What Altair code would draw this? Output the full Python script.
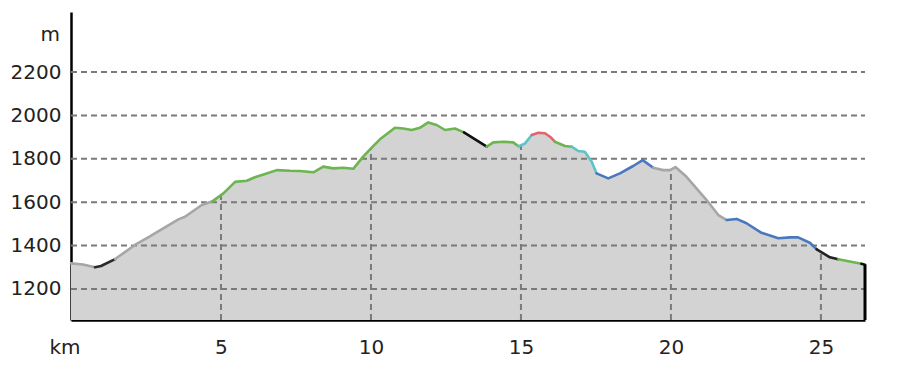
import altair as alt
import pandas as pd
import numpy as np

# Profile (km, elevation m)
km = [0.0, 0.4, 0.8, 1.0, 1.47, 2.13, 2.6, 3.02, 3.58, 3.8, 4.36, 4.7, 5.08, 5.47, 5.86,
      6.13, 6.47, 6.86, 7.3, 7.63, 8.08, 8.41, 8.74, 9.08, 9.41, 9.74, 10.0, 10.3, 10.8,
      11.08, 11.36, 11.63, 11.91, 12.19, 12.47, 12.8, 13.1, 13.86, 14.08, 14.41, 14.74,
      14.92, 15.13, 15.36, 15.58, 15.8, 15.97, 16.13, 16.47, 16.69, 16.91, 17.13, 17.36,
      17.52, 17.91, 18.3, 18.74, 19.06, 19.41, 19.74, 19.97, 20.15, 20.52, 21.19, 21.58,
      21.86, 22.19, 22.52, 23.02, 23.58, 23.97, 24.24, 24.63, 24.86, 25.3, 25.58, 26.35, 26.47]
elev = [1318, 1313, 1300, 1306, 1338, 1403, 1440, 1475, 1521, 1533, 1587, 1603, 1641, 1694, 1699,
        1715, 1730, 1748, 1745, 1744, 1738, 1764, 1756, 1759, 1754, 1810, 1848, 1890, 1943,
        1940, 1933, 1943, 1968, 1956, 1933, 1940, 1922, 1856, 1876, 1879, 1876,
        1858, 1870, 1910, 1920, 1918, 1902, 1879, 1859, 1856, 1836, 1833, 1787,
        1733, 1710, 1733, 1767, 1794, 1759, 1748, 1748, 1762, 1717, 1610, 1541,
        1518, 1523, 1503, 1459, 1434, 1438, 1438, 1413, 1383, 1346, 1337, 1316, 1312]

# Coloured sections along the profile (start km, end km, colour)
seg_start = [0.0, 0.8, 1.47, 4.7, 13.1, 13.86, 14.92, 15.36, 16.13, 16.69, 17.52, 19.41, 21.86, 24.86, 25.58, 26.35]
seg_end = [0.8, 1.47, 4.7, 13.1, 13.86, 14.92, 15.36, 16.13, 16.69, 17.52, 19.41, 21.86, 24.86, 25.58, 26.35, 26.47]
seg_color = ["#a6a6a6", "#2a2a2a", "#a6a6a6", "#6cb54f", "#111111", "#6cb54f", "#5cc4c4", "#e5636b",
             "#6cb54f", "#5cc4c4", "#4a78bd", "#a6a6a6", "#4a78bd", "#222222", "#6cb54f", "#111111"]

y_ticks = [1200, 1400, 1600, 1800, 2000, 2200]
x_ticks = [5, 10, 15, 20, 25]

Y_MIN, Y_MAX = 1057, 2477
X_MAX = 26.47
W, H = 794, 308

prof = pd.DataFrame({"km": km, "elev": elev})

rows = []
for i, (s, e, c) in enumerate(zip(seg_start, seg_end, seg_color)):
    for k, v in zip(km, elev):
        if s <= k <= e:
            rows.append({"km": k, "elev": v, "seg": i, "col": c})
segs = pd.DataFrame(rows)

vgrid = pd.DataFrame({"km": x_ticks, "top": np.interp(x_ticks, km, elev), "bot": Y_MIN})
hgrid = pd.DataFrame({"y": y_ticks})
edge = pd.DataFrame({"km": [X_MAX], "top": [elev[-1]], "bot": [Y_MIN]})

xs = alt.Scale(domain=[0, X_MAX], nice=False, zero=False)
ys = alt.Scale(domain=[Y_MIN, Y_MAX], nice=False, zero=False)

FONT = "DejaVu Sans"

area = alt.Chart(prof).mark_area(color="#d3d3d3", opacity=1).encode(
    x=alt.X("km:Q", scale=xs, axis=alt.Axis(values=x_ticks, title=None, grid=False, ticks=False,
                                             domainColor="#000", domainWidth=2.5, labelFontSize=20,
                                             labelFont=FONT, labelColor="#222", labelPadding=17,
                                             labelFlush=False, format="d")),
    y=alt.Y("elev:Q", scale=ys, axis=alt.Axis(values=y_ticks, title=None, grid=False, ticks=False,
                                               domainColor="#000", domainWidth=2.5, labelFontSize=20,
                                               labelFont=FONT, labelColor="#222", labelPadding=10,
                                               format="d")),
    y2=alt.datum(Y_MIN),
)

hrules = alt.Chart(hgrid).mark_rule(color="#7a7a7a", strokeDash=[6, 4], strokeWidth=2).encode(
    y=alt.Y("y:Q", scale=ys),
    x=alt.value(0), x2=alt.value(W),
)

vrules = alt.Chart(vgrid).mark_rule(color="#7a7a7a", strokeDash=[6, 4], strokeWidth=2).encode(
    x=alt.X("km:Q", scale=xs), y=alt.Y("bot:Q", scale=ys), y2="top:Q",
)

lines = alt.Chart(segs).mark_line(strokeWidth=2.6, strokeJoin="round", strokeCap="round").encode(
    x=alt.X("km:Q", scale=xs), y=alt.Y("elev:Q", scale=ys),
    color=alt.Color("col:N", scale=None), detail="seg:N", order="km:Q",
)

edge_rule = alt.Chart(edge).mark_rule(color="#000", strokeWidth=3).encode(
    x=alt.X("km:Q", scale=xs), y=alt.Y("bot:Q", scale=ys), y2="top:Q",
)

m_label = alt.Chart(pd.DataFrame({"t": ["m"]})).mark_text(
    fontSize=20, font=FONT, color="#222", align="right", baseline="middle"
).encode(x=alt.value(-11), y=alt.value(23), text="t:N")

km_label = alt.Chart(pd.DataFrame({"t": ["km"]})).mark_text(
    fontSize=20, font=FONT, color="#222", align="center", baseline="middle"
).encode(x=alt.value(-6), y=alt.value(336), text="t:N")

chart = alt.layer(area, hrules, vrules, lines, edge_rule, m_label, km_label).properties(
    width=W, height=H,
    autosize=alt.AutoSizeParams(type="none"),
    padding={"left": 71, "top": 12, "right": 37, "bottom": 55},
    background="white",
).configure_view(stroke=None)

chart.save("out.html", embed_options={"renderer": "svg", "actions": False})
